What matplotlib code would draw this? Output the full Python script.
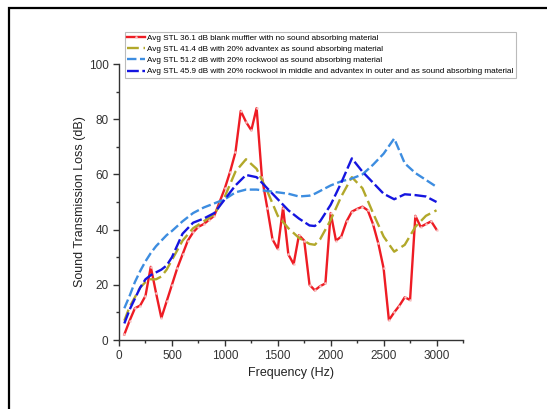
import numpy as np
import matplotlib.pyplot as plt
from matplotlib.patches import Rectangle

plt.rcParams['font.family'] = ['Liberation Sans', 'DejaVu Sans']

# blank muffler (red)
freq_red = [50, 100, 150, 200, 250, 300, 350, 400, 450, 500, 550, 600, 650, 700, 750, 800,
            850, 900, 950, 1000, 1050, 1100, 1150, 1200, 1250, 1300, 1350, 1400, 1450, 1500,
            1550, 1600, 1650, 1700, 1750, 1800, 1850, 1900, 1950, 2000, 2050, 2100, 2150, 2200,
            2250, 2300, 2350, 2400, 2450, 2500, 2550, 2600, 2650, 2700, 2750, 2800, 2850, 2900,
            2950, 3000]
stl_red = [2, 7, 11.5, 12.5, 16, 26.5, 17, 8, 14, 20, 26, 31, 36, 39, 41, 42,
           43.5, 45, 50, 55, 61, 68, 83, 79, 76, 84, 59, 48, 36.5, 33,
           48, 31, 27.5, 38, 36, 20, 18, 19.5, 20.5, 46, 36, 37.5, 43, 46.5,
           47.5, 48.3, 47, 42, 35, 26, 7.2, 10, 12.5, 15.5, 14.5, 45, 41, 42,
           43, 40]

freq = [50, 100, 150, 200, 250, 300, 350, 400, 450, 500, 600, 700, 800, 900, 1000, 1100,
        1200, 1300, 1400, 1500, 1600, 1700, 1800, 1850, 1900, 2000, 2100, 2200, 2300, 2400,
        2500, 2600, 2700, 2800, 2900, 3000]

# 20% advantex (olive)
stl_adv = [7, 12, 15.5, 19, 21, 22, 22, 23, 25.5, 29, 36, 40.5, 43, 45.5, 52, 61,
           65.5, 62, 54, 45, 40.5, 37, 34.8, 34.5, 36.5, 43.5, 52, 59, 55, 46,
           37.5, 32, 34.5, 41, 45, 47]

# 20% rockwool (light blue)
stl_rock = [11.5, 16, 21, 25, 28.5, 31.5, 34, 36, 38, 39.5, 43, 46, 48, 49.5, 51, 53.5,
            54.5, 54.5, 54, 53.5, 53, 52, 52.3, 53, 54, 56, 57.5, 58.5, 60, 63.5,
            67.5, 73, 64, 60.5, 58, 55.5]

# rockwool middle + advantex outer (blue)
stl_mix = [6, 11, 15, 19, 22, 23.5, 24.5, 25.5, 27, 30, 38.5, 42.5, 44, 46, 51, 56,
           59.8, 59, 55, 51, 47, 44, 41.5, 41.3, 43, 49, 57, 65.8, 61, 57,
           53, 51, 52.8, 52.5, 52, 50]

labels = ["Avg STL 36.1 dB blank muffler with no sound absorbing material",
          "Avg STL 41.4 dB with 20% advantex as sound absorbing material",
          "Avg STL 51.2 dB with 20% rockwool as sound absorbing material",
          "Avg STL 45.9 dB with 20% rockwool in middle and advantex in outer and as sound absorbing material"]

fig = plt.figure(figsize=(5.47, 4.09), dpi=100)
ax = fig.add_axes([0.2176, 0.1687, 0.6288, 0.6748])

# partial frame round the figure (as in the exported image)
fig.patches.append(Rectangle((9/547, -0.1), 1.5, 1 - 8/409 + 0.1, transform=fig.transFigure,
                             fill=False, ec='black', lw=1.6))

mk = dict(marker='o', ms=1.6, mfc='#f7c8c8', mec='#f7c8c8', mew=0.2)
ax.plot(freq_red, stl_red, color='#ee1c24', lw=1.7, label=labels[0], **mk)
ax.plot(freq, stl_adv, color='#b2a82a', lw=1.7, dashes=(5, 2), label=labels[1])
ax.plot(freq, stl_rock, color='#3d8de0', lw=1.7, dashes=(4, 1.5), label=labels[2])
ax.plot(freq, stl_mix, color='#1515e0', lw=1.7, dashes=(5, 1.5), label=labels[3])

ax.set_xlim(0, 3250)
ax.set_ylim(0, 100)
ax.set_xticks([0, 500, 1000, 1500, 2000, 2500, 3000])
ax.set_xticks(np.arange(250, 3300, 500), minor=True)
ax.set_yticks([0, 20, 40, 60, 80, 100])
ax.set_yticks([10, 30, 50, 70, 90], minor=True)
for s in ['top', 'right']:
    ax.spines[s].set_visible(False)
for s in ['left', 'bottom']:
    ax.spines[s].set_linewidth(1.0)
    ax.spines[s].set_color('#333333')
ax.tick_params(which='major', direction='out', length=4, width=1, labelsize=8.5, colors='#333333')
ax.tick_params(which='minor', direction='out', length=2.5, width=1, colors='#333333')
ax.set_xlabel("Frequency (Hz)", fontsize=9, color='#222222', labelpad=3)
ax.set_ylabel("Sound Transmission Loss (dB)", fontsize=9, color='#222222', labelpad=2)

leg = ax.legend(loc='upper left', bbox_to_anchor=(0.017, 1.117), fontsize=5.9, handlelength=2.2,
                handletextpad=0.2, borderpad=0.3, labelspacing=0.42, frameon=True,
                fancybox=False, edgecolor='#aaaaaa', borderaxespad=0)
leg.get_frame().set_linewidth(0.8)

fig.savefig('out.png', dpi=100)
